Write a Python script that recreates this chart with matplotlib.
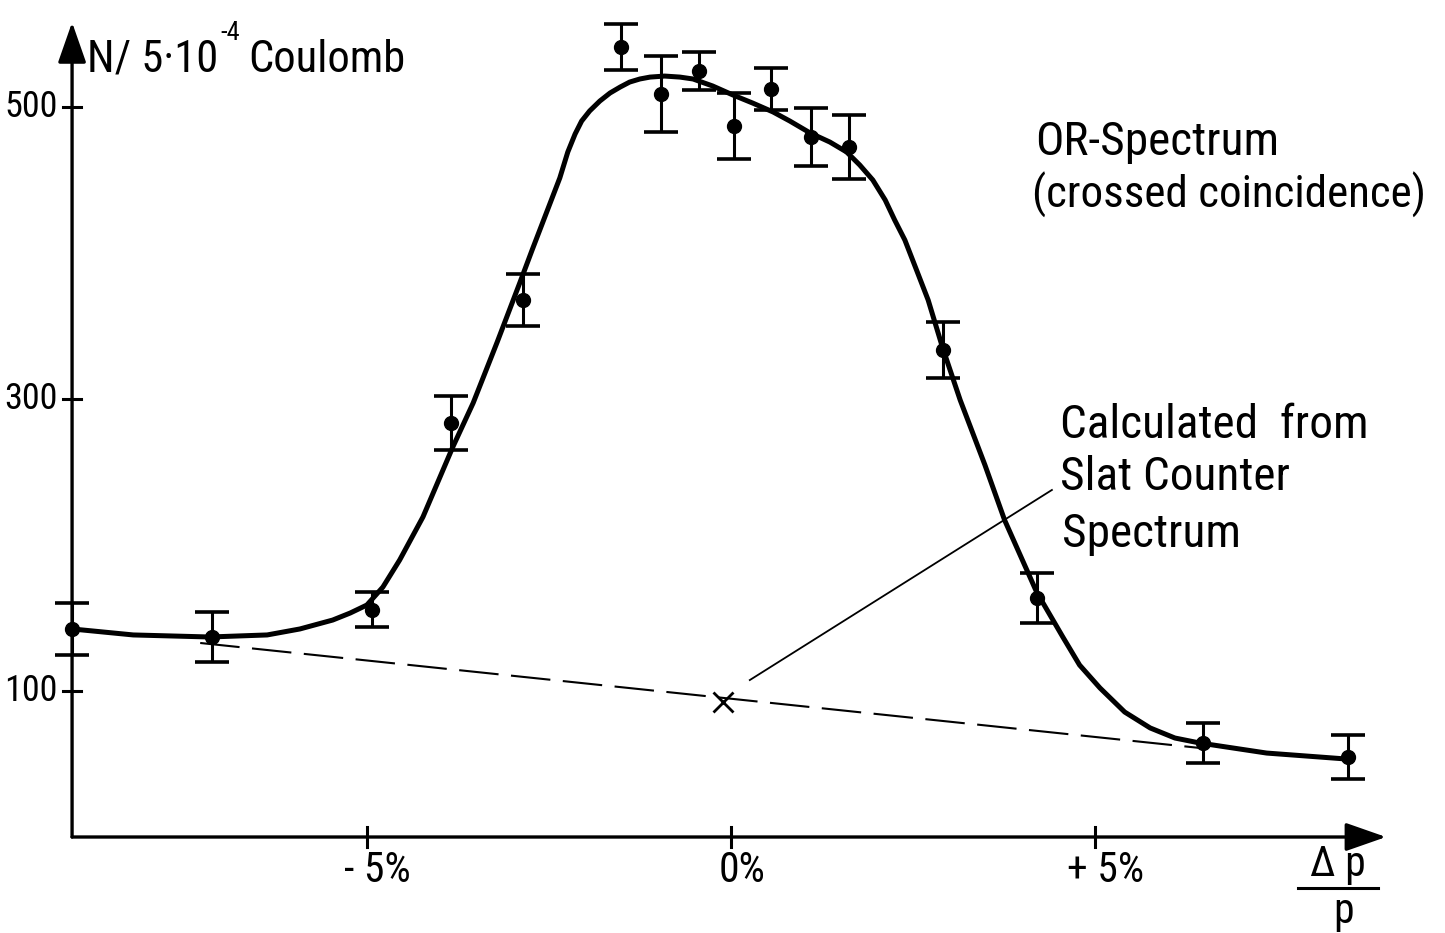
import numpy as np
import matplotlib
matplotlib.use("Agg")
import matplotlib.pyplot as plt
from matplotlib import font_manager

# measured points: momentum offset (%) and counts per 5e-4 Coulomb
dp = [-9.05, -7.13, -4.93, -3.85, -2.86, -1.51, -0.96, -0.44, 0.04, 0.55,
      1.10, 1.62, 2.91, 4.20, 6.48, 8.48]
counts = [142.5, 137.0, 155.5, 283.6, 367.8, 541.1, 508.9, 524.7, 487.0, 512.3,
          479.5, 472.6, 333.6, 163.7, 64.4, 54.8]
errors = [18, 17, 12, 18.5, 18, 16, 26, 13, 22.6, 14.4, 20, 22, 19, 17, 14, 15]

# hand-drawn fit through the OR spectrum
curve_dp = [-9.05, -8.21, -7.16, -6.37, -5.92, -5.47, -5.23, -5.00, -4.78, -4.55,
            -4.23, -3.82, -3.54, -3.21, -2.90, -2.73, -2.35, -2.24, -2.14, -2.05,
            -1.94, -1.80, -1.66, -1.52, -1.39, -1.25, -1.11, -0.91, -0.70, -0.52,
            -0.25, 0.03, 0.30, 0.58, 0.81, 1.09, 1.36, 1.59, 1.77, 1.95,
            2.12, 2.25, 2.39, 2.55, 2.71, 2.91, 3.15, 3.49, 3.76, 4.20,
            4.56, 4.79, 5.07, 5.41, 5.76, 6.10, 6.44, 7.36, 8.46]
curve_n = [142.5, 138.4, 137.0, 138.4, 142.5, 148.6, 153.4, 158.9, 171.2, 189.7,
           219.2, 267.1, 297.3, 339.0, 379.5, 402.1, 451.4, 469.2, 481.5, 490.4,
           497.3, 504.1, 509.6, 513.7, 517.1, 519.2, 520.5, 521.2, 520.5, 519.2,
           514.4, 508.2, 502.7, 496.6, 490.4, 482.2, 476.0, 469.2, 460.3, 450.0,
           436.3, 422.6, 408.9, 388.4, 367.8, 334.9, 299.3, 254.8, 217.1, 167.8,
           137.0, 117.8, 102.1, 85.6, 74.7, 67.8, 64.4, 57.5, 53.4]

# background from the slat counter spectrum
slat_dp = [-7.29, 6.44]
slat_n = [132.9, 61.0]
slat_calc = (-0.11, 92.5)

yticks = [100, 300, 500]
xticks = [-5, 0, 5]
xlabels = ["- 5%", "0%", "+ 5%"]

names = {f.name for f in font_manager.fontManager.ttflist}
fam = next((n for n in ["Liberation Sans Narrow", "DejaVu Sans Condensed",
                        "Roboto Condensed", "Liberation Sans"] if n in names),
           "DejaVu Sans")
plt.rcParams["font.family"] = [fam, "DejaVu Sans"]

fig = plt.figure(figsize=(14.45, 9.33), dpi=100)
ax = fig.add_axes([0, 0, 1, 1])
ax.set_xlim(-10.04, 9.81)
ax.set_ylim(-65.75, 573.3)
ax.axis("off")

x0 = -9.05
# axes with arrow heads
arrow = dict(arrowstyle="-|>,head_length=1.0,head_width=0.35", mutation_scale=25,
             lw=2.4, color="black", shrinkA=0, shrinkB=0)
ax.annotate("", xy=(x0, 558), xytext=(x0, 0), arrowprops=arrow)
ax.annotate("", xy=(9.0, 0), xytext=(x0, 0), arrowprops=arrow)

for t in yticks:
    ax.plot([x0 - 0.12, x0 + 0.12], [t, t], color="black", lw=2.2)
    ax.text(x0 - 0.2, t, str(t), ha="right", va="center", fontsize=26)
for t, lab in zip(xticks, xlabels):
    ax.plot([t, t], [-7, 7], color="black", lw=2.2)
    ax.text(t + 0.15, -23, lab, ha="center", va="center", fontsize=30)

ax.plot(curve_dp, curve_n, color="black", lw=3.6, solid_joinstyle="round",
        solid_capstyle="round")
ax.plot(slat_dp, slat_n, color="black", lw=1.5, dashes=(19, 6))
ax.plot(*slat_calc, marker="x", ms=14, mew=2, color="black", ls="none")
ax.plot([0.26, 4.41], [107.5, 237.7], color="black", lw=1.3)

ax.errorbar(dp, counts, yerr=errors, fmt="o", color="black", ms=10,
            elinewidth=2.2, capsize=12, capthick=2.6, zorder=5, clip_on=False)

# axis titles
t1 = ax.text(-8.85, 524, "N/ 5·10", fontsize=32, va="baseline")
ax.annotate("-4", xy=(1.0, 0.85), xycoords=t1, xytext=(2, 0),
            textcoords="offset points", fontsize=19, va="bottom", ha="left")
ax.text(-6.63, 524, "Coulomb", fontsize=32, va="baseline")
ax.text(8.34, -26.5, "Δ p", fontsize=30, va="baseline", ha="center")
ax.plot([7.79, 8.89], [-35, -35], color="black", lw=2.2)
ax.text(8.41, -59, "p", fontsize=30, va="baseline", ha="center")

# annotations
ax.text(4.18, 467, "OR-Spectrum", fontsize=34, va="baseline")
ax.text(4.14, 430.8, "(crossed coincidence)", fontsize=32.5, va="baseline")
ax.text(4.52, 273.3, "Calculated  from", fontsize=34, va="baseline")
ax.text(4.52, 237.7, "Slat Counter", fontsize=34, va="baseline")
ax.text(4.55, 198.6, "Spectrum", fontsize=34, va="baseline")

fig.savefig("out.png", dpi=100)
